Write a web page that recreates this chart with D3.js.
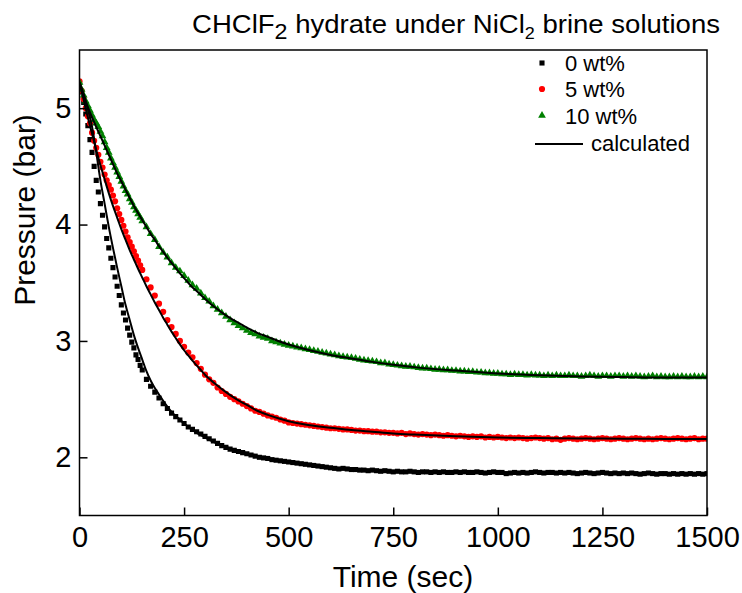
<!DOCTYPE html>
<html><head><meta charset="utf-8">
<script src="https://cdn.jsdelivr.net/npm/d3@7"></script>
<style>body{margin:0;background:#fff}svg{display:block}text{font-family:"Liberation Sans",Arial,sans-serif}</style>
</head><body>
<svg id="chart" width="742" height="593"></svg>
<script>
// ---------- data ----------
const time = [0,5,10,15,20,25,30,35,40,45,50,55,60,65,70,75,80,85,90,95,100,105,110,115,120,125,130,135,140,145,150,
160,170,180,190,200,210,220,230,240,250,260,270,280,290,300,310,320,330,340,350,360,370,380,390,400,
410,420,430,440,450,460,470,480,490,500,510,520,530,540,550,560,570,580,590,600,610,620,630,640,650,
660,670,680,690,700,710,720,730,740,750,760,770,780,790,800,810,820,830,840,850,860,870,880,890,900,
910,920,930,940,950,960,970,980,990,1000,1010,1020,1030,1040,1050,1060,1070,1080,1090,1100,
1110,1120,1130,1140,1150,1160,1170,1180,1190,1200,1210,1220,1230,1240,1250,1260,1270,1280,1290,1300,
1310,1320,1330,1340,1350,1360,1370,1380,1390,1400,1410,1420,1430,1440,1450,1460,1470,1480,1490,1500];

const p0 = [5.22,5.14,5.05,4.95,4.85,4.73,4.62,4.50,4.38,4.28,4.18,4.08,3.98,3.88,3.80,3.71,3.63,3.55,3.47,3.39,3.31,3.24,3.18,3.11,3.05,2.99,2.94,2.88,2.84,2.79,2.75,
2.67,2.61,2.56,2.51,2.46, 2.42,2.38,2.35,2.32,2.29, 2.26,2.24,2.22,2.20,2.18, 2.16,2.14,2.12,2.10,2.085, 2.07,2.06,2.05,2.04,2.03,
2.02,2.01,2.00,1.995,1.99, 1.98,1.975,1.97,1.965,1.96, 1.955,1.95,1.945,1.94,1.935, 1.93,1.925,1.92,1.915,1.91, 1.905,1.90,1.905,1.90,1.895,
1.895,1.89,1.89,1.885,1.89, 1.885,1.88,1.885,1.88,1.875, 1.88,1.875,1.875,1.88,1.875, 1.87,1.875,1.875,1.87,1.875, 1.87,1.875,1.87,1.87,1.875,
1.87,1.875,1.87,1.87,1.875, 1.87,1.865,1.87,1.875,1.87, 1.87,1.86,1.865,1.87,1.865, 1.87,1.865,1.87,1.875,1.87,
1.865,1.87,1.87,1.865,1.87, 1.865,1.87,1.865,1.86,1.865, 1.87,1.865,1.86,1.865,1.87, 1.865,1.86,1.865,1.86,1.865,
1.86,1.865,1.86,1.855,1.86, 1.865,1.86,1.855,1.86,1.86, 1.855,1.86,1.855,1.86,1.855, 1.86,1.855,1.86,1.855,1.86];

const p5 = [5.23,5.15,5.08,5.00,4.93,4.87,4.79,4.72,4.66,4.60,4.54,4.49,4.43,4.38,4.34,4.30,4.25,4.20,4.14,4.09,4.04,3.99,3.94,3.89,3.85,3.81,3.77,3.73,3.69,3.65,3.61,
3.53,3.46,3.39,3.32,3.25, 3.18,3.12,3.06,3.00,2.95, 2.90,2.86,2.81,2.76,2.71, 2.67,2.64,2.60,2.57,2.545, 2.52,2.50,2.48,2.46,2.44,
2.42,2.40,2.39,2.375,2.36, 2.35,2.34,2.325,2.315,2.30, 2.295,2.29,2.285,2.28,2.275, 2.27,2.265,2.26,2.255,2.25, 2.25,2.245,2.24,2.24,2.235,
2.23,2.23,2.225,2.225,2.22, 2.22,2.215,2.215,2.21,2.21, 2.205,2.21,2.20,2.205,2.20, 2.195,2.20,2.195,2.19,2.195, 2.19,2.185,2.19,2.185,2.18,
2.185,2.18,2.175,2.18,2.175, 2.18,2.17,2.175,2.17,2.175, 2.17,2.165,2.17,2.165,2.17, 2.165,2.16,2.165,2.17,2.165,
2.16,2.165,2.155,2.16,2.15, 2.16,2.165,2.16,2.155,2.16, 2.165,2.16,2.155,2.16,2.165, 2.16,2.155,2.16,2.165,2.16,
2.155,2.16,2.165,2.16,2.155, 2.16,2.155,2.16,2.165,2.16, 2.155,2.16,2.165,2.16,2.155, 2.16,2.165,2.155,2.16,2.16];

const p10 = [5.22,5.16,5.11,5.06,5.02,4.98,4.94,4.90,4.87,4.84,4.80,4.76,4.71,4.66,4.62,4.57,4.53,4.49,4.45,4.41,4.37,4.33,4.29,4.26,4.22,4.19,4.15,4.12,4.09,4.06,4.03,
3.98,3.92,3.87,3.81,3.76, 3.72,3.67,3.63,3.60,3.56, 3.52,3.48,3.45,3.41,3.37, 3.34,3.30,3.27,3.24,3.21, 3.18,3.155,3.13,3.11,3.09,
3.07,3.06,3.04,3.03,3.02, 3.00,2.99,2.98,2.97,2.96, 2.955,2.945,2.94,2.93,2.925, 2.915,2.91,2.90,2.895,2.885, 2.88,2.87,2.865,2.86,2.855,
2.85,2.84,2.835,2.83,2.825, 2.82,2.81,2.81,2.80,2.795, 2.79,2.785,2.78,2.78,2.775, 2.77,2.765,2.765,2.76,2.755, 2.755,2.75,2.75,2.745,2.745,
2.74,2.74,2.735,2.735,2.73, 2.73,2.725,2.725,2.72,2.72, 2.715,2.715,2.71,2.715,2.71, 2.71,2.705,2.71,2.705,2.705,
2.70,2.705,2.70,2.705,2.70, 2.70,2.705,2.70,2.70,2.695, 2.70,2.705,2.70,2.695,2.70, 2.70,2.695,2.70,2.70,2.695,
2.70,2.695,2.70,2.695,2.69, 2.695,2.70,2.69,2.695,2.69, 2.69,2.695,2.69,2.695,2.69, 2.69,2.695,2.69,2.695,2.69];

const calcTime = [0,10,20,30,40,50,60,70,80,90,100,110,120,130,140,150,160,170,180,190,200,210,220,230,240,250,260,270,280,290,300,
325,350,375,400,425,450,475,500,550,600,650,700,750,800,900,1000,1100,1200,1300,1400,1500];
const c0 = [5.22,5.12,4.99,4.84,4.62,4.38,4.18,3.98,3.80,3.63,3.47,3.31,3.18,3.05,2.94,2.84,2.74,2.66,2.595,2.54,2.485,2.435,2.39,2.355,2.325,2.29,2.26,2.235,2.21,2.19,2.17,
2.125,2.09,2.06,2.035,2.01,1.99,1.975,1.96,1.935,1.915,1.90,1.89,1.883,1.878,1.873,1.87,1.868,1.866,1.865,1.864,1.863];
const c5 = [5.22,5.07,4.92,4.78,4.64,4.51,4.39,4.27,4.16,4.06,3.96,3.87,3.78,3.70,3.62,3.545,3.47,3.40,3.33,3.265,3.20,3.14,3.08,3.025,2.97,2.92,2.875,2.83,2.79,2.75,2.71,
2.63,2.56,2.50,2.45,2.40,2.365,2.335,2.31,2.275,2.255,2.235,2.22,2.205,2.195,2.18,2.17,2.165,2.162,2.16,2.158,2.157];
const c10 = [5.22,5.11,5.01,4.92,4.84,4.76,4.68,4.60,4.52,4.44,4.37,4.30,4.23,4.16,4.10,4.04,3.98,3.92,3.87,3.815,3.765,3.715,3.67,3.625,3.58,3.54,3.50,3.46,3.43,3.395,3.36,
3.285,3.22,3.165,3.115,3.07,3.035,3.00,2.97,2.92,2.88,2.85,2.82,2.795,2.775,2.745,2.72,2.705,2.695,2.69,2.685,2.685];

const xTicks = [0,250,500,750,1000,1250,1500];
const yTicks = [2,3,4,5];
const seriesNames = ["0 wt%","5 wt%","10 wt%"];
const seriesColors = ["#000000","#ff0000","#008000"];
const lineLabel = "calculated";

// ---------- layout ----------
const svg = d3.select("#chart");
const L = 79.5, R = 707, T = 50, B = 515.5;
const x = d3.scaleLinear().domain([0,1500]).range([L,R]);
const y = d3.scaleLinear().domain([1.5,5.5]).range([B,T]);

svg.append("defs").append("clipPath").attr("id","clip")
  .append("rect").attr("x",L).attr("y",T).attr("width",R-L).attr("height",B-T);

const plot = svg.append("g").attr("clip-path","url(#clip)");
const dataSets = [p0,p5,p10];
const symbols = [d3.symbol().type(d3.symbolSquare).size(26),
                 d3.symbol().type(d3.symbolCircle).size(30),
                 d3.symbol().type(d3.symbolTriangle).size(26)];
dataSets.forEach((vals,i)=>{
  plot.append("g").selectAll("path").data(time).join("path")
    .attr("d", symbols[i]())
    .attr("transform",(t,j)=>`translate(${x(t)},${y(vals[j])})`)
    .attr("fill", seriesColors[i]);
});
const line = d3.line().x((d,j)=>x(calcTime[j])).y(d=>y(d)).curve(d3.curveMonotoneX);
[c0,c5,c10].forEach(c=>{
  plot.append("path").attr("d", line(c)).attr("fill","none").attr("stroke","#000").attr("stroke-width",2);
});

// axes
const xAxis = d3.axisBottom(x).tickValues(xTicks).tickFormat(d3.format("d")).tickSizeInner(-8).tickSizeOuter(0).tickPadding(11);
const yAxis = d3.axisLeft(y).tickValues(yTicks).tickFormat(d3.format("d")).tickSizeInner(-8).tickSizeOuter(0).tickPadding(8);
const gx = svg.append("g").attr("transform",`translate(0,${B})`).call(xAxis);
const gy = svg.append("g").attr("transform",`translate(${L},0)`).call(yAxis);
[gx,gy].forEach(g=>{
  g.select(".domain").remove();
  g.selectAll(".tick line").attr("stroke","#000").attr("stroke-width",1.5);
  g.selectAll(".tick text").attr("font-size",29).attr("fill","#000")
   .attr("font-family","'Liberation Sans',Arial,sans-serif");
});
svg.append("rect").attr("x",L).attr("y",T).attr("width",R-L).attr("height",B-T)
  .attr("fill","none").attr("stroke","#000").attr("stroke-width",1.5);

// axis titles
svg.append("text").attr("x",403).attr("y",587).attr("text-anchor","middle")
  .attr("font-size",30).text("Time (sec)");
svg.append("text").attr("transform","translate(35,210) rotate(-90)").attr("text-anchor","middle")
  .attr("font-size",30).text("Pressure (bar)");

// title
const title = svg.append("text").attr("x",192).attr("y",33).attr("font-size",26)
  .attr("textLength",528).attr("lengthAdjust","spacingAndGlyphs");
title.append("tspan").text("CHClF");
title.append("tspan").attr("dy",6).attr("font-size",22).text("2");
title.append("tspan").attr("dy",-6).text(" hydrate under NiCl");
title.append("tspan").attr("dy",6).attr("font-size",17).text("2");
title.append("tspan").attr("dy",-6).text(" brine solutions");

// legend
const leg = svg.append("g");
const legY = [71,97,123.5];
seriesNames.forEach((n,i)=>{
  leg.append("path").attr("d",symbols[i]()).attr("fill",seriesColors[i])
    .attr("transform",`translate(542,${legY[i]-8})`);
  leg.append("text").attr("x",565).attr("y",legY[i]).attr("font-size",22).text(n);
});
leg.append("line").attr("x1",535).attr("x2",583).attr("y1",144).attr("y2",144)
  .attr("stroke","#000").attr("stroke-width",2);
leg.append("text").attr("x",591).attr("y",151).attr("font-size",22).text(lineLabel);
</script>
</body></html>
